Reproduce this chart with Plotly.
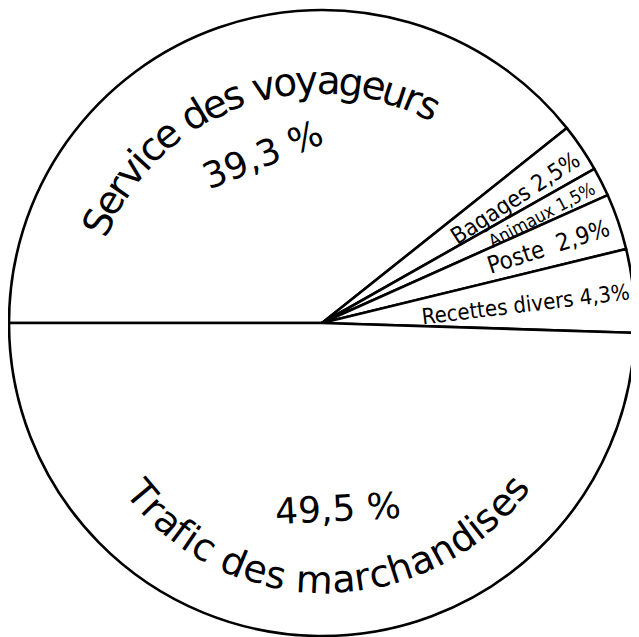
import math

import plotly.graph_objects as go

# shares of receipts (%)
labels = ["Service des voyageurs", "Bagages", "Animaux", "Poste", "Recettes divers", "Trafic des marchandises"]
values = [39.3, 2.5, 1.5, 2.9, 4.3, 49.5]

# the page body keeps its default 8px margin, so the figure is made that much smaller
OFF = 8
W, H = 639 - OFF, 637 - OFF
FONT = "DejaVu Sans"
NARROW = "DejaVu Sans Condensed, DejaVu Sans"

# rough advance widths (em) for spacing characters along an arc
ADV = {
    "S": .635, "e": .615, "r": .411, "v": .592, "i": .278, "c": .55, "d": .635, "s": .521,
    "o": .612, "y": .592, "a": .613, "g": .635, "u": .634, " ": .318, "T": .611, "f": .352,
    "m": .974, "h": .634, "n": .634,
}


def px(x, y):
    # window pixel -> paper fraction
    return (x - OFF) / W, 1 - (y - OFF) / H


def note(text, x, y, angle, size, family=FONT):
    xx, yy = px(x, y)
    return dict(x=xx, y=yy, xref="paper", yref="paper", text=text, showarrow=False,
                xanchor="center", yanchor="middle", textangle=angle,
                font=dict(family=family, size=size, color="black"))


def arc_text(text, cx, cy, r, a0, a1, size, top=True):
    out = []
    pos, s = [], 0.0
    for ch in text:
        w = ADV.get(ch, 0.6)
        pos.append(s + w / 2)
        s += w
    for ch, p in zip(text, pos):
        if ch == " ":
            continue
        t = (p - pos[0]) / (pos[-1] - pos[0])
        ang = a0 + (a1 - a0) * t
        rad = math.radians(ang)
        angle = (90 - ang) if top else -(ang + 90)
        out.append(note(ch, cx + r * math.cos(rad), cy - r * math.sin(rad), angle, size))
    return out


# circle centre (322, 323), radius 313 in window pixels
cx, cy, r = 322 - OFF, 323 - OFF, 313
fig = go.Figure(go.Pie(
    labels=labels,
    values=values,
    sort=False,
    direction="clockwise",
    rotation=270,
    textinfo="none",
    hoverinfo="skip",
    marker=dict(colors=["white"] * len(values), line=dict(color="black", width=2.6)),
    domain=dict(x=[(cx - r) / W, (cx + r) / W], y=[(H - cy - r) / H, (H - cy + r) / H]),
    showlegend=False,
))

annotations = []
annotations += arc_text("Service des voyageurs", 320, 324, 244, 155.3, 63.5, 39, top=True)
annotations += arc_text("Trafic des marchandises", 326, 340, 240, -140.1, -38.1, 38, top=False)
annotations.append(note("39,3 %", 263, 155, -22, 36))
annotations.append(note("49,5 %", 338, 508, -3, 36))
annotations.append(note("Bagages 2,5%", 515, 198, -33, 23, NARROW))
annotations.append(note("Animaux 1,5%", 542, 215, -28, 18, NARROW))
annotations.append(note("Poste  2,9%", 548, 247, -18, 24, NARROW))
annotations.append(note("Recettes divers 4,3%", 525, 304, -7, 22, NARROW))

fig.update_layout(
    width=W,
    height=H,
    margin=dict(l=0, r=0, t=0, b=0),
    paper_bgcolor="white",
    plot_bgcolor="white",
    annotations=annotations,
)

fig.write_html("out.html")
